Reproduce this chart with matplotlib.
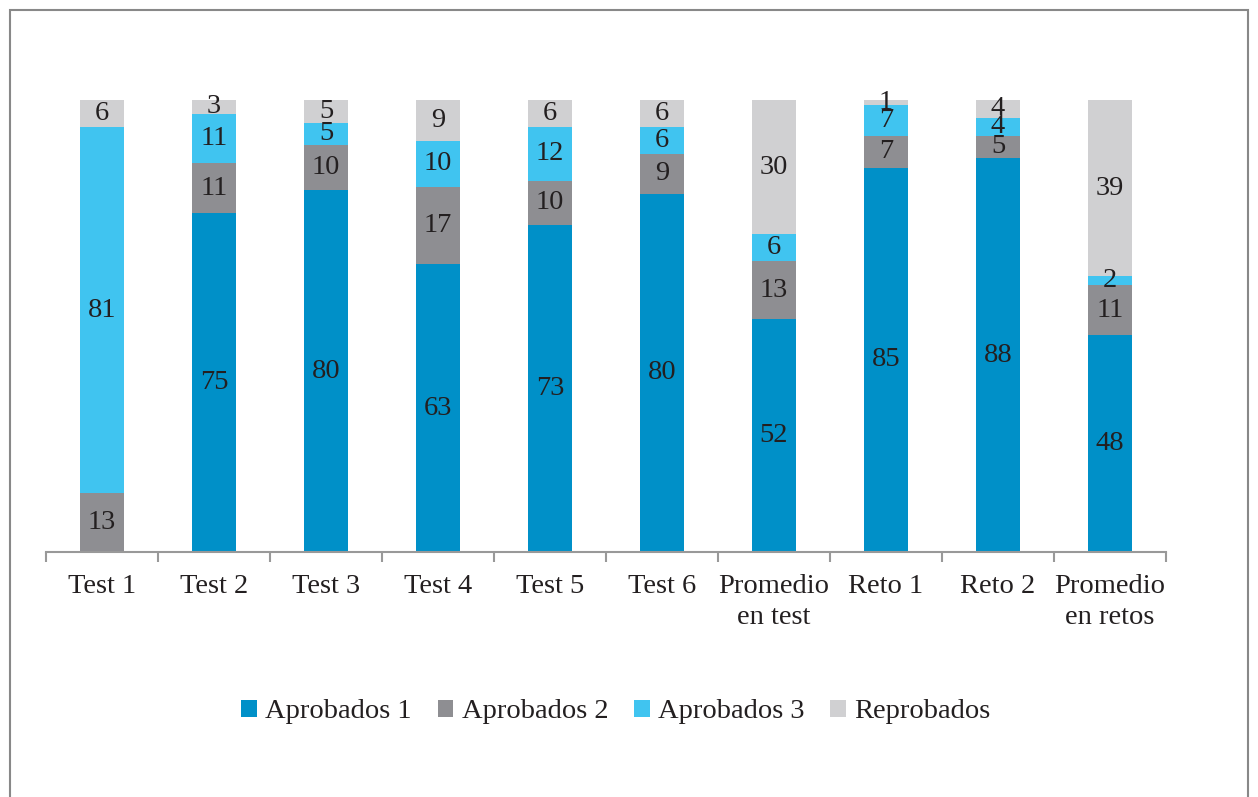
import matplotlib.pyplot as plt
from matplotlib.patches import Rectangle
import numpy as np

plt.rcParams['font.family'] = ['Liberation Serif', 'DejaVu Serif']

categories = ['Test 1', 'Test 2', 'Test 3', 'Test 4', 'Test 5', 'Test 6',
              'Promedio\nen test', 'Reto 1', 'Reto 2', 'Promedio\nen retos']
aprobados1 = [0, 75, 80, 63, 73, 80, 52, 85, 88, 48]
aprobados2 = [13, 11, 10, 17, 10, 9, 13, 7, 5, 11]
aprobados3 = [81, 11, 5, 10, 12, 6, 6, 7, 4, 2]
reprobados = [6, 3, 5, 9, 6, 6, 30, 1, 4, 39]

series = [('Aprobados 1', aprobados1, '#0090c8'),
          ('Aprobados 2', aprobados2, '#8e8e92'),
          ('Aprobados 3', aprobados3, '#40c4f0'),
          ('Reprobados', reprobados, '#d0d0d2')]

fig = plt.figure(figsize=(12.58, 7.97), dpi=100)
ax = fig.add_axes([46 / 1258, 1 - 552 / 797, (1166 - 46) / 1258, 452 / 797])

x = np.arange(len(categories))
totals = np.sum([s[1] for s in series], axis=0)
bottom = np.zeros(len(categories))
for name, vals, col in series:
    vals = np.array(vals, dtype=float)
    h = vals / totals * 100
    ax.bar(x, h, 0.4, bottom=bottom, color=col, label=name)
    for xi, b, hi, v in zip(x, bottom, h, vals):
        if v > 0:
            ax.text(xi, b + hi / 2, '%d' % v, ha='center', va='center',
                    fontsize=20.5, color='#231f20')
    bottom += h

ax.set_xlim(-0.5, len(categories) - 0.5)
ax.set_ylim(0, 100)
for sp in ['top', 'right', 'left']:
    ax.spines[sp].set_visible(False)
ax.spines['bottom'].set_color('#999999')
ax.spines['bottom'].set_linewidth(1.5)
ax.set_yticks([])
ax.set_xticks(x)
ax.set_xticklabels(categories, fontsize=20.5, color='#231f20', linespacing=1.3)
ax.tick_params(axis='x', which='major', length=0, pad=16)
ax.set_xticks(np.arange(-0.5, len(categories), 1), minor=True)
ax.tick_params(axis='x', which='minor', length=7, width=1.5, color='#999999')

fig.legend(loc='center', bbox_to_anchor=(616 / 1258, 1 - 712 / 797), ncol=4,
           frameon=False, fontsize=20.5, handlelength=0.55, handleheight=0.55,
           handletextpad=0.3, columnspacing=0.9, labelcolor='#231f20')

fig.patches.append(Rectangle((10 / 1258, -0.05), 1238 / 1258, 1.05 - 10 / 797,
                             transform=fig.transFigure, fill=False,
                             edgecolor='#888888', linewidth=1.5))

fig.savefig('out.png', dpi=100)
